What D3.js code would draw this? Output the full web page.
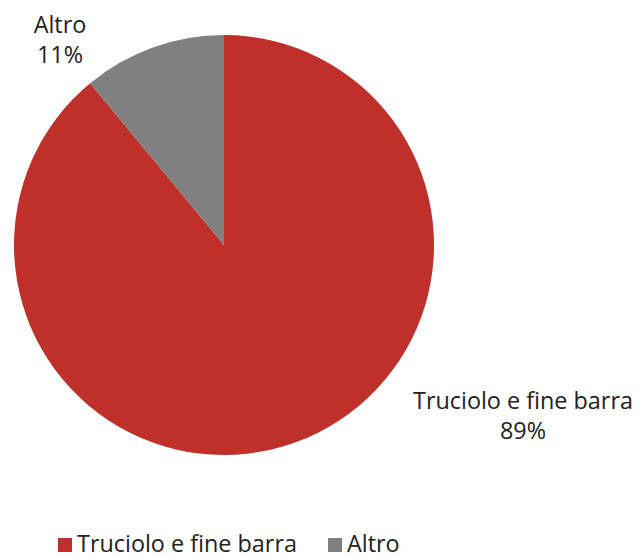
<!DOCTYPE html>
<html>
<head>
<meta charset="utf-8">
<script src="https://cdn.jsdelivr.net/npm/d3@7"></script>
<style>
  body { margin: 0; background: #fff; }
  text { font-family: "Open Sans", "Noto Sans", sans-serif; fill: #222; }
</style>
</head>
<body>
<svg></svg>
<script>
var width = 640;
var height = 558;

var categories = ['Truciolo e fine barra', 'Altro'];
var values = [89, 11];
var labels = ['89%', '11%'];
var colors = ['#c0302a', '#808080'];

var cx = 224, cy = 245, radius = 210;

var svg = d3.select('svg')
    .attr('width', width)
    .attr('height', height);

var pie = d3.pie().sort(null).value(d => d.value);
var arc = d3.arc().innerRadius(0).outerRadius(radius);

var data = categories.map((c, i) => ({ name: c, value: values[i], label: labels[i], color: colors[i] }));

var g = svg.append('g')
    .attr('transform', 'translate(' + cx + ',' + cy + ')');

g.selectAll('path')
    .data(pie(data))
    .enter()
    .append('path')
        .attr('d', arc)
        .attr('fill', d => d.data.color);

// data labels outside the slices (page coords of first baseline)
var labelPos = [[523, 409], [60, 33]];

svg.selectAll('text.lbl')
    .data(pie(data))
    .enter()
    .append('text')
        .attr('class', 'lbl')
        .attr('x', (d, i) => labelPos[i][0])
        .attr('y', (d, i) => labelPos[i][1])
        .style('text-anchor', 'middle')
        .style('font-size', '23.4px')
        .each(function(d){
            var t = d3.select(this);
            t.append('tspan').attr('x', t.attr('x')).text(d.data.name);
            t.append('tspan').attr('x', t.attr('x')).attr('dy', 30).text(d.data.label);
        });

// legend
var legendX = [58, 328];
var legend = svg.append('g');

legend.selectAll('rect')
    .data(data)
    .enter()
    .append('rect')
        .attr('x', (d, i) => legendX[i])
        .attr('y', 538)
        .attr('width', 14)
        .attr('height', 14)
        .attr('fill', d => d.color);

legend.selectAll('text')
    .data(data)
    .enter()
    .append('text')
        .attr('x', (d, i) => legendX[i] + 19)
        .attr('y', 552)
        .style('font-size', '23.4px')
        .text(d => d.name);
</script>
</body>
</html>
